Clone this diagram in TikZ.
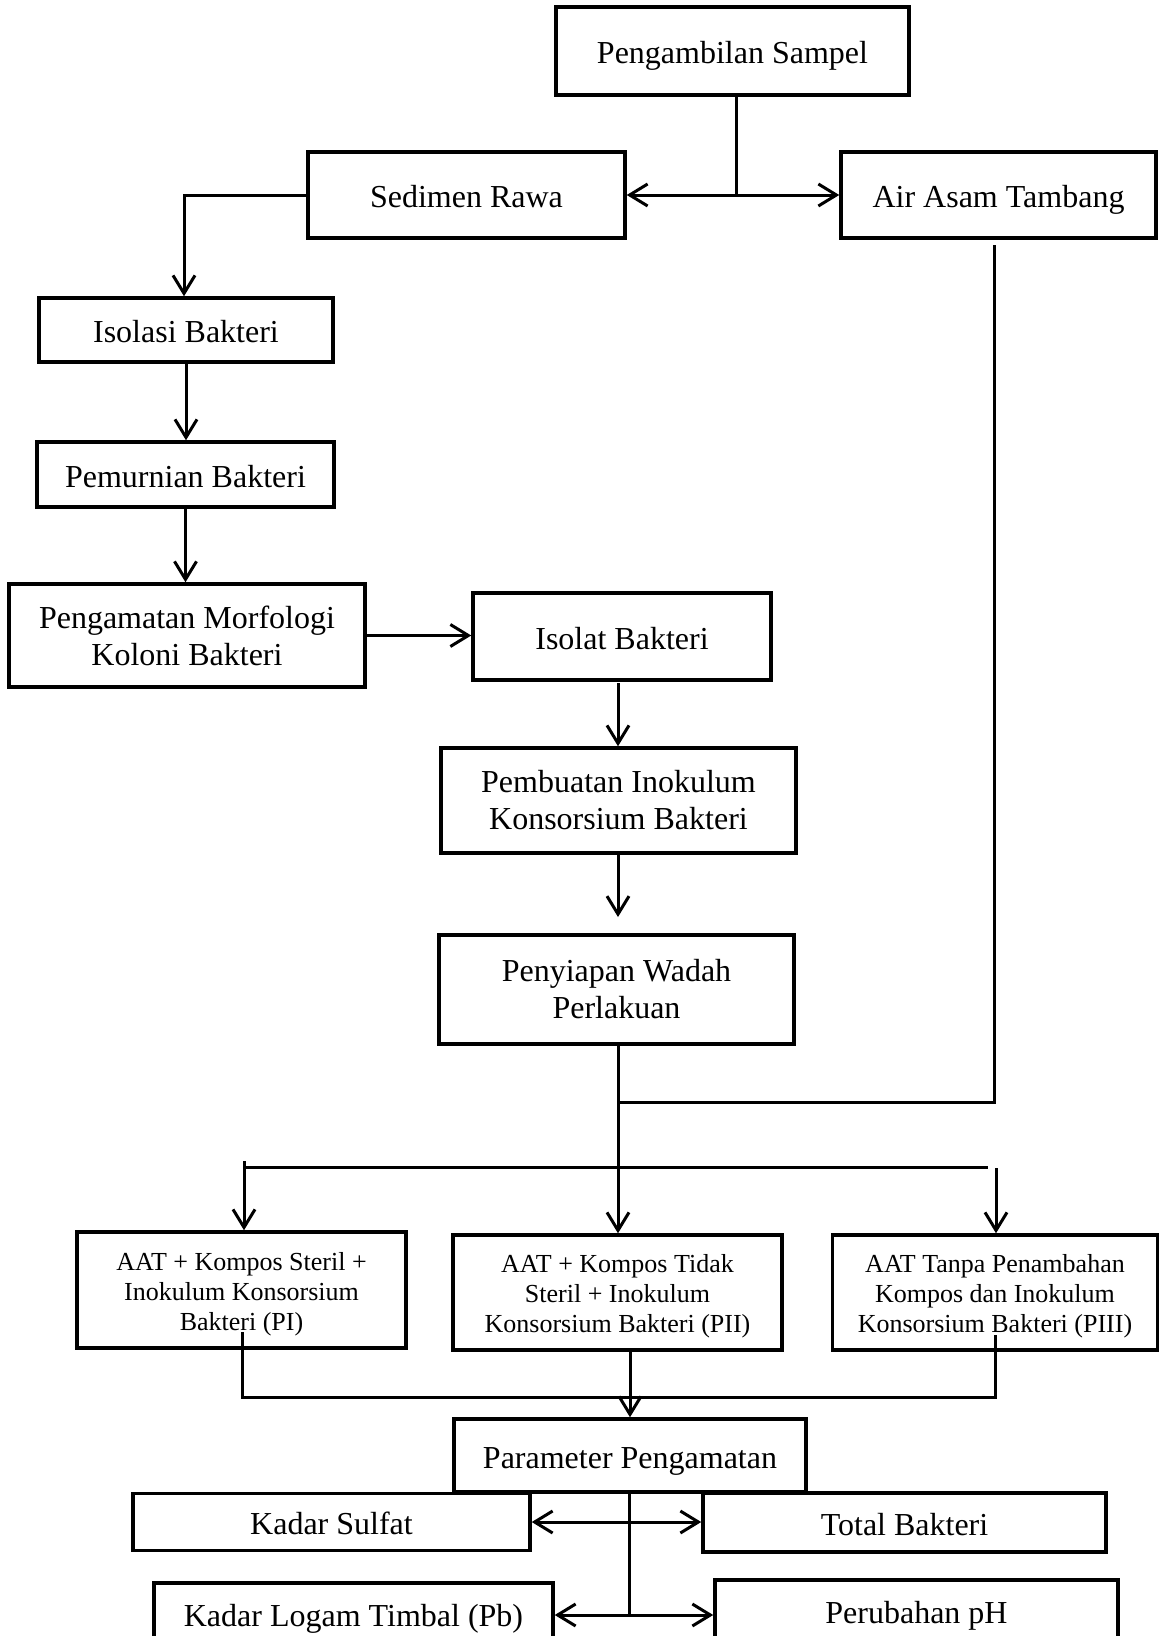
\documentclass[tikz,border=0pt]{standalone}
\usepackage{fontspec}
\setmainfont{Liberation Serif}
\usetikzlibrary{arrows.meta}
\newcommand\mainsz{\fontsize{32pt}{37pt}\selectfont}
\newcommand\boxsz{\fontsize{26pt}{30pt}\selectfont}
\newcommand\toppad{\rule{0pt}{26pt}}
\tikzset{
  flowbox/.style={draw, line width=3.5pt, align=center, inner sep=0pt, font=\mainsz},
  oneline/.style={flowbox, text height=27pt, text depth=2pt},
  pbox/.style={flowbox, font=\boxsz},
  ln/.style={line width=3pt},
  arr/.style={line width=3pt, -{Straight Barb[length=18pt,width=22pt,line width=3pt]}},
}
\begin{document}
\begin{tikzpicture}[x=1pt,y=-1pt]
\useasboundingbox (0,0) rectangle (1159,1636);
\clip (0,0) rectangle (1159,1636);
% nodes
\node[oneline, minimum width=353pt, minimum height=88pt] (PS) at (732.5,51) {Pengambilan Sampel};
\node[oneline, minimum width=317pt, minimum height=86pt] (SR) at (466.5,195) {Sedimen Rawa};
\node[oneline, minimum width=315pt, minimum height=86pt] (AAT) at (998.5,195) {Air Asam Tambang};
\node[oneline, minimum width=294pt, minimum height=64pt] (IB) at (186,330) {Isolasi Bakteri};
\node[oneline, minimum width=297pt, minimum height=65pt] (PB) at (185.5,474.5) {Pemurnian Bakteri};
\node[flowbox, minimum width=356pt, minimum height=103pt] (PM) at (187,635.5) {Pengamatan Morfologi\\Koloni Bakteri};
\node[oneline, minimum width=298pt, minimum height=87pt] (IS) at (622,636.5) {Isolat Bakteri};
\node[flowbox, minimum width=355pt, minimum height=105pt] (PIK) at (618.5,800.5) {Pembuatan Inokulum\\Konsorsium Bakteri};
\node[flowbox, minimum width=355pt, minimum height=109pt] (PW) at (616.5,989.5) {Penyiapan Wadah\\Perlakuan};
\node[pbox, minimum width=329pt, minimum height=116pt] (P1) at (241.5,1290) {\toppad AAT + Kompos Steril +\\Inokulum Konsorsium\\Bakteri (PI)};
\node[pbox, minimum width=329pt, minimum height=115pt] (P2) at (617.5,1292.5) {\toppad AAT + Kompos Tidak\\Steril + Inokulum\\Konsorsium Bakteri (PII)};
\node[pbox, minimum width=325pt, minimum height=115pt] (P3) at (995,1292.5) {\toppad AAT Tanpa Penambahan\\Kompos dan Inokulum\\Konsorsium Bakteri (PIII)};
\node[oneline, minimum width=352pt, minimum height=73pt] (PP) at (630,1455.5) {Parameter Pengamatan};
\node[oneline, minimum width=397pt, minimum height=57pt] (KS) at (331.5,1522) {Kadar Sulfat};
\node[oneline, minimum width=403pt, minimum height=59pt] (TB) at (904.5,1522.5) {Total Bakteri};
\node[oneline, minimum width=399pt, minimum height=62pt] (KL) at (353.5,1614) {Kadar Logam Timbal (Pb)};
\node[oneline, minimum width=403pt, minimum height=62pt] (PH) at (916.5,1611) {Perubahan pH};
% junction coordinates
\coordinate (j1) at (736,195);
\coordinate (c1) at (184,195);
\coordinate (a6) at (618,683);
\coordinate (a7) at (618,917);
\coordinate (r1) at (994,245);
\coordinate (r2) at (994,1102);
\coordinate (t0) at (244,1161);
\coordinate (b1) at (244,1167);
\coordinate (b2) at (988,1167);
\coordinate (b3) at (996,1168);
\coordinate (d1) at (242,1332);
\coordinate (e1) at (242,1397);
\coordinate (d3) at (995,1335);
\coordinate (e3) at (995,1397);
\coordinate (d2) at (630,1350);
\coordinate (e2) at (630,1397);
\coordinate (m1) at (629,1522);
\coordinate (m2) at (629,1615);
% connectors
\draw[ln] (PS.south -| j1) -- (j1);
\draw[arr] (j1) -- (SR.east);
\draw[arr] (j1) -- (AAT.west);
\draw[arr] (SR.west) -- (c1) -- (IB.north -| c1);
\draw[arr] (IB.south) -- (IB.south |- PB.north);
\draw[arr] (PB.south) -- (PB.south |- PM.north);
\draw[arr] (PM.east) -- (IS.west |- PM.east);
\draw[arr] (a6) -- (a6 |- PIK.north);
\draw[arr] (PIK.south -| a7) -- (a7);
\draw[arr] (PW.south -| a7) -- (a7 |- P2.north);
\draw[ln] (r1) -- (r2) -- (r2 -| a7);
\draw[ln] (t0) -- (b1) -- (b2);
\draw[arr] (b1) -- (b1 |- P1.north);
\draw[arr] (b3) -- (b3 |- P3.north);
\draw[ln] (d1) -- (e1) -- (e3) -- (d3);
\draw[ln] (d2) -- (e2);
\draw[arr] (e2) -- (PP.north);
\draw[ln] (PP.south -| m2) -- (m2);
\draw[arr] (m1) -- (KS.east);
\draw[arr] (m1) -- (TB.west |- m1);
\draw[arr] (m2) -- (KL.east |- m2);
\draw[arr] (m2) -- (PH.west |- m2);
\end{tikzpicture}
\end{document}
